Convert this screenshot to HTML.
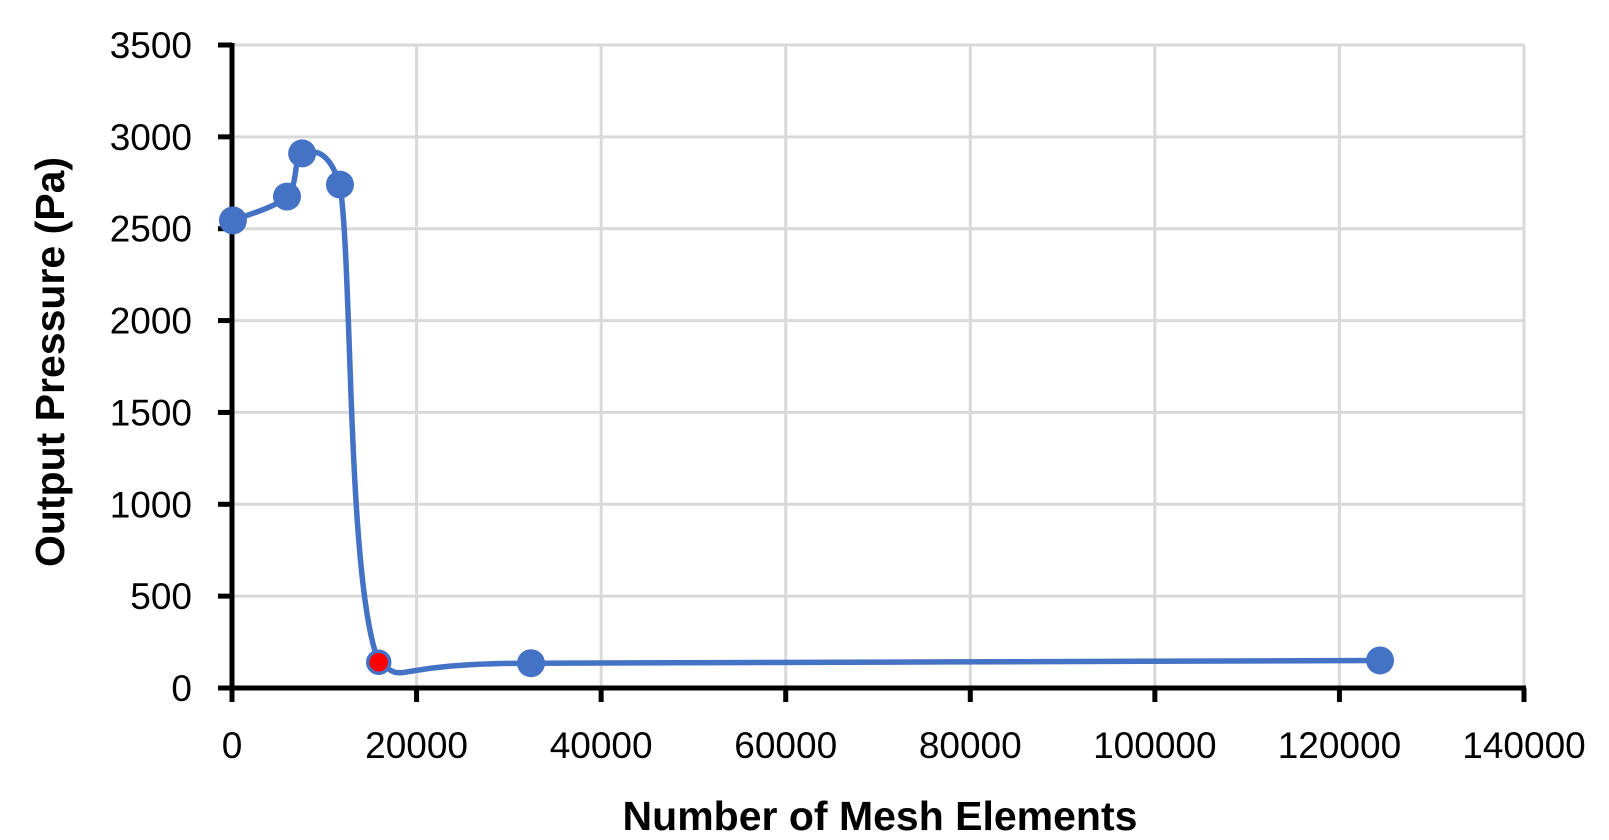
<!DOCTYPE html>
<html><head><meta charset="utf-8"><style>
html,body{margin:0;padding:0;background:#fff;}
svg{display:block;font-family:"Liberation Sans",sans-serif;}
</style></head><body>
<svg id="chart" width="1609" height="840"></svg>
<script>
const xTicks=[0,20000,40000,60000,80000,100000,120000,140000];
const yTicks=[0,500,1000,1500,2000,2500,3000,3500];
const meshElements=[100,5960,7600,11700,15900,32400,124400];
const outputPressure=[2545,2675,2910,2740,140,135,150];
const highlightIndex=4;
const NS="http://www.w3.org/2000/svg";
const svg=document.getElementById('chart');
const X0=232,X1=1524,Y0=688,Y1=45;
function sx(v){return X0+(v-0)/(140000)*(X1-X0);}
function sy(v){return Y0-(v/3500)*(Y0-Y1);}
function mk(t,a){const e=document.createElementNS(NS,t);for(const k in a)e.setAttribute(k,a[k]);svg.appendChild(e);return e;}
xTicks.forEach(v=>{if(v===0)return;const g=mk('line',{x1:sx(v),x2:sx(v),y1:Y1,y2:Y0,stroke:'#d9d9d9','stroke-width':3});

});
yTicks.forEach(v=>{if(v===0)return;const g=mk('line',{x1:X0,x2:X1,y1:sy(v),y2:sy(v),stroke:'#d9d9d9','stroke-width':3});

});
const ya=mk('line',{x1:X0,x2:X0,y1:Y1-2,y2:Y0+14,stroke:'#000','stroke-width':5});


const xa=mk('line',{x1:X0-14,x2:X1+2,y1:Y0,y2:Y0,stroke:'#000','stroke-width':5});


yTicks.forEach(v=>{const t=mk('line',{x1:X0-14,x2:X0,y1:sy(v),y2:sy(v),stroke:'#000','stroke-width':5});


const l=mk('text',{x:192,y:sy(v)+13,'text-anchor':'end','font-size':37,fill:'#000'});l.textContent=v;

});
xTicks.forEach(v=>{const t=mk('line',{x1:sx(v),x2:sx(v),y1:Y0,y2:Y0+14,stroke:'#000','stroke-width':5});


const l=mk('text',{x:sx(v),y:758,'text-anchor':'middle','font-size':37,fill:'#000'});l.textContent=v;

});
// smooth line: Catmull-Rom with clamped control points
const P=meshElements.map((x,i)=>[sx(x),sy(outputPressure[i])]);
function cl(v,a,b){return Math.max(Math.min(a,b),Math.min(Math.max(a,b),v));}
let d=`M${P[0][0]},${P[0][1]}`;
for(let i=0;i<P.length-1;i++){const p0=P[Math.max(0,i-1)],p1=P[i],p2=P[i+1],p3=P[Math.min(P.length-1,i+2)];
const lo=Math.min(p1[1],p2[1])-8,hi=Math.max(p1[1],p2[1])+22;
let c1=[p1[0]+(p2[0]-p0[0])/6,p1[1]+(p2[1]-p0[1])/6],c2=[p2[0]-(p3[0]-p1[0])/6,p2[1]-(p3[1]-p1[1])/6];
c1=[cl(c1[0],p1[0],p2[0]),cl(c1[1],lo,hi)];c2=[cl(c2[0],p1[0],p2[0]),cl(c2[1],lo,hi)];
d+=` C${c1[0]},${c1[1]} ${c2[0]},${c2[1]} ${p2[0]},${p2[1]}`;}
const line=mk('path',{d:d,fill:'none',stroke:'#4472c4','stroke-width':5.5});


P.forEach((p,i)=>{const hl=i===highlightIndex;
const c=mk('circle',{cx:p[0],cy:p[1],r:hl?11:14,fill:hl?'#ff0000':'#4472c4',stroke:'#4472c4','stroke-width':hl?3.5:0});

});
const xt=mk('text',{x:880,y:830,'text-anchor':'middle','font-size':41,'font-weight':'bold',fill:'#000'});xt.textContent='Number of Mesh Elements';


const yt=mk('text',{x:0,y:0,'text-anchor':'middle','font-size':41,'font-weight':'bold',fill:'#000',transform:'translate(64,362) rotate(-90)'});yt.textContent='Output Pressure (Pa)';


</script>
</body></html>
